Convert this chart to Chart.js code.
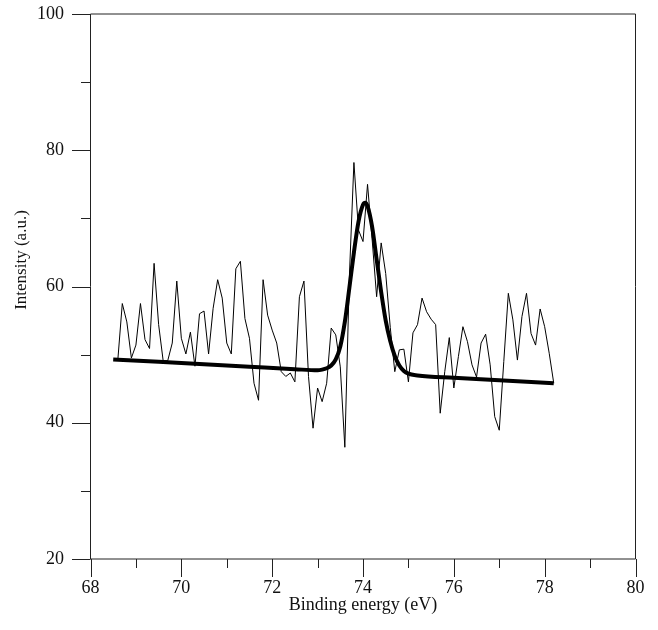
<!DOCTYPE html>
<html>
<head>
<meta charset="utf-8">
<script src="https://cdn.jsdelivr.net/npm/chart.js@4.4.1/dist/chart.umd.min.js"></script>
<style>
  html, body { margin: 0; padding: 0; background: #ffffff; }
  #wrap { width: 658px; height: 630px; }
</style>
</head>
<body>
<div id="wrap"><canvas id="c" width="658" height="630"></canvas></div>
<script>
// ---- data ----
const energy = [
  68.6, 68.7, 68.8, 68.9, 69.0, 69.1, 69.2, 69.3, 69.4, 69.5,
  69.6, 69.7, 69.8, 69.9, 70.0, 70.1, 70.2, 70.3, 70.4, 70.5,
  70.6, 70.7, 70.8, 70.9, 71.0, 71.1, 71.2, 71.3, 71.4, 71.5,
  71.6, 71.7, 71.8, 71.9, 72.0, 72.1, 72.2, 72.3, 72.4, 72.5,
  72.6, 72.7, 72.8, 72.9, 73.0, 73.1, 73.2, 73.3, 73.4, 73.5,
  73.6, 73.7, 73.8, 73.9, 74.0, 74.1, 74.2, 74.3, 74.4, 74.5,
  74.6, 74.7, 74.8, 74.9, 75.0, 75.1, 75.2, 75.3, 75.4, 75.5,
  75.6, 75.7, 75.8, 75.9, 76.0, 76.1, 76.2, 76.3, 76.4, 76.5,
  76.6, 76.7, 76.8, 76.9, 77.0, 77.1, 77.2, 77.3, 77.4, 77.5,
  77.6, 77.7, 77.8, 77.9, 78.0, 78.1, 78.2
];
const intensity = [
  49.1, 57.5, 54.8, 49.5, 51.4, 57.5, 52.2, 50.9, 63.4, 54.4,
  49.1, 49.1, 51.7, 60.8, 52.4, 50.1, 53.3, 48.3, 56.0, 56.4,
  50.1, 56.8, 61.0, 58.3, 51.7, 50.1, 62.6, 63.7, 55.3, 52.4,
  45.8, 43.3, 61.0, 55.8, 53.6, 51.7, 47.5, 46.8, 47.3, 46.0,
  58.5, 60.8, 46.8, 39.2, 45.1, 43.1, 45.8, 53.9, 52.9, 48.2,
  36.4, 61.5, 78.2, 68.3, 66.6, 75.0, 67.0, 58.5, 66.4, 61.9,
  54.0, 47.5, 50.7, 50.8, 46.0, 53.2, 54.4, 58.3, 56.3, 55.2,
  54.4, 41.4, 47.5, 52.5, 45.1, 49.7, 54.1, 51.9, 48.5, 46.7,
  51.7, 53.0, 48.5, 40.9, 38.9, 49.0, 59.0, 55.1, 49.2, 55.6,
  59.0, 53.1, 51.4, 56.7, 54.1, 50.2, 45.8
];
const fitEnergy = [
  68.5, 69.5, 70.5, 71.5, 72.5, 73.0, 73.1, 73.2, 73.3, 73.4,
  73.5, 73.6, 73.7, 73.8, 73.9, 74.0, 74.05, 74.1, 74.2, 74.3,
  74.4, 74.5, 74.6, 74.7, 74.8, 74.9, 75.0, 75.2, 76.0, 77.0, 78.2
];
const fitIntensity = [
  49.3, 48.94, 48.58, 48.22, 47.86, 47.7, 47.8, 48.0, 48.4, 49.3,
  51.2, 54.8, 59.8, 65.0, 69.5, 72.0, 72.3, 71.8, 68.8, 64.0,
  59.2, 55.0, 52.0, 49.8, 48.4, 47.6, 47.2, 46.95, 46.6, 46.25, 45.8
];
const xTicks = [68, 70, 72, 74, 76, 78, 80];
const yTicks = [20, 40, 60, 80, 100];
const xLabel = 'Binding energy (eV)';
const yLabel = 'Intensity (a.u.)';

// ---- chart ----
const FONT = "'Liberation Serif', 'Times New Roman', serif";
const AXIS_COLOR = '#222';

const frame = {
  id: 'frame',
  afterDraw(chart) {
    const {ctx, chartArea: a, scales: {x, y}} = chart;
    ctx.save();
    ctx.strokeStyle = AXIS_COLOR;
    ctx.lineWidth = 1;
    ctx.beginPath();
    ctx.rect(a.left, a.top, a.right - a.left, a.bottom - a.top);
    ctx.stroke();
    ctx.beginPath();
    for (let v = x.min; v <= x.max; v += 1) {
      const px = Math.round(x.getPixelForValue(v)) + 0.5;
      const len = (v % 2 === 0) ? 18 : 9;
      ctx.moveTo(px, a.bottom);
      ctx.lineTo(px, a.bottom + len);
    }
    for (let v = y.min; v <= y.max; v += 10) {
      const py = Math.round(y.getPixelForValue(v)) + 0.5;
      const len = (v % 20 === 0) ? 18.5 : 9.5;
      ctx.moveTo(a.left, py);
      ctx.lineTo(a.left - len, py);
    }
    ctx.stroke();
    ctx.fillStyle = '#111';
    ctx.font = '17px ' + FONT;
    ctx.textAlign = 'center';
    ctx.textBaseline = 'middle';
    ctx.translate(22, 260);
    ctx.rotate(-Math.PI / 2);
    ctx.fillText(yLabel, 0, 0);
    ctx.restore();
  }
};

new Chart(document.getElementById('c'), {
  type: 'line',
  data: {
    datasets: [
      {
        label: 'data',
        data: energy.map((e, i) => ({x: e, y: intensity[i]})),
        borderColor: '#000',
        borderWidth: 1,
        pointRadius: 0,
        tension: 0,
        fill: false
      },
      {
        label: 'fit',
        data: fitEnergy.map((e, i) => ({x: e, y: fitIntensity[i]})),
        borderColor: '#000',
        borderWidth: 4,
        pointRadius: 0,
        cubicInterpolationMode: 'monotone',
        fill: false
      }
    ]
  },
  options: {
    responsive: false,
    animation: false,
    layout: { padding: { left: 0, top: 14, right: 22.5, bottom: 0 } },
    plugins: { legend: { display: false }, tooltip: { enabled: false } },
    scales: {
      x: {
        type: 'linear',
        min: 68, max: 80,
        afterFit(s) { s.height = 71; s.paddingLeft = 0; s.paddingRight = 0; },
        afterBuildTicks(s) { s.ticks = xTicks.map(v => ({value: v})); },
        grid: { display: false, drawTicks: false },
        border: { display: false },
        ticks: { color: '#111', padding: 18, font: { family: FONT, size: 18 }, maxRotation: 0 },
        title: { display: true, text: xLabel, color: '#111', font: { family: FONT, size: 18 }, padding: { top: 0, bottom: 14 } }
      },
      y: {
        type: 'linear',
        min: 20, max: 100,
        afterFit(s) { s.width = 90.5; s.paddingTop = 0; s.paddingBottom = 0; },
        afterBuildTicks(s) { s.ticks = yTicks.map(v => ({value: v})); },
        grid: { display: false, drawTicks: false },
        border: { display: false },
        ticks: { color: '#111', padding: 26.5, font: { family: FONT, size: 18 } }
      }
    }
  },
  plugins: [frame]
});
</script>
</body>
</html>
